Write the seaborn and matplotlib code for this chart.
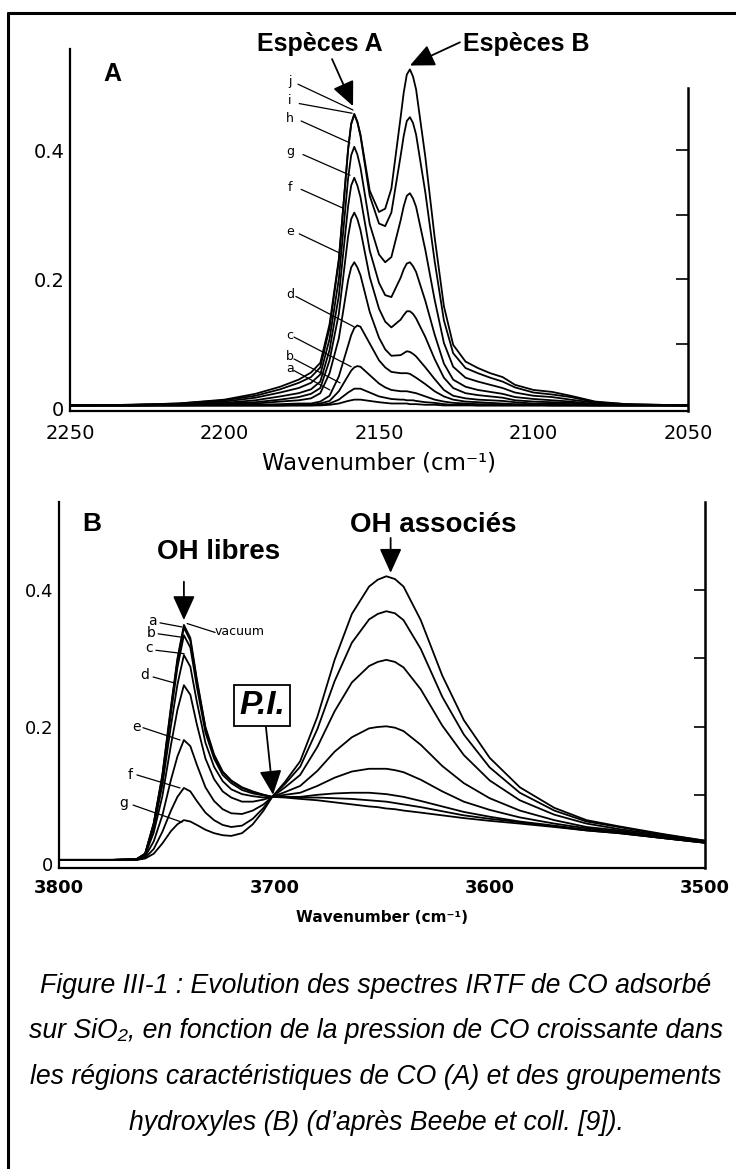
import matplotlib
matplotlib.use("Agg")
import matplotlib.pyplot as plt
import seaborn as sns
import pandas as pd
from matplotlib.lines import Line2D

W, H = 736, 1169

# ---- Panel A : CO region, spectra a..j (increasing CO pressure)
wn_co = [2250, 2230, 2215, 2200, 2190, 2182, 2176, 2172, 2169, 2166, 2163, 2160,
         2159, 2158, 2157, 2156, 2153, 2150, 2148, 2146, 2143, 2142, 2141, 2140,
         2139, 2138, 2135, 2132, 2129, 2126, 2122, 2118, 2114, 2110, 2106, 2100,
         2094, 2088, 2080, 2070, 2050]
co_a = [.004, .004, .004, .004, .004, .004, .004, .004, .004, .005, .007, .011,
        .012, .013, .013, .013, .011, .009, .008, .007, .007, .007, .007, .006,
        .006, .006, .005, .005, .004, .004, .004, .004, .004, .004, .004, .004,
        .004, .004, .004, .004, .004]
co_b = [.004, .004, .004, .004, .004, .004, .004, .004, .005, .007, .013, .024,
        .027, .030, .030, .030, .024, .018, .016, .014, .013, .013, .012, .012,
        .012, .011, .009, .008, .006, .005, .005, .004, .004, .004, .004, .004,
        .004, .004, .004, .004, .004]
co_c = [.004, .004, .004, .004, .004, .004, .005, .005, .007, .011, .026, .050,
        .058, .063, .065, .064, .051, .038, .032, .028, .026, .026, .026, .025,
        .024, .023, .018, .013, .010, .008, .007, .006, .006, .005, .005, .005,
        .004, .004, .004, .004, .004]
co_d = [.004, .004, .004, .005, .005, .006, .007, .007, .010, .019, .049, .097,
        .113, .124, .128, .126, .100, .074, .063, .056, .054, .054, .054, .053,
        .050, .047, .037, .026, .018, .013, .010, .009, .008, .007, .006, .006,
        .005, .005, .004, .004, .004]
co_e = [.004, .004, .005, .006, .007, .010, .012, .015, .023, .054, .108, .198,
        .218, .226, .218, .206, .149, .109, .091, .081, .082, .085, .088, .087,
        .084, .080, .063, .045, .028, .019, .015, .013, .012, .011, .009, .007,
        .007, .006, .005, .004, .004]
co_f = [.004, .004, .005, .007, .009, .013, .017, .022, .031, .074, .146, .266,
        .293, .303, .293, .276, .203, .154, .134, .125, .137, .144, .150, .150,
        .146, .139, .110, .076, .047, .031, .023, .020, .018, .016, .012, .010,
        .009, .008, .006, .005, .004]
co_g = [.004, .004, .005, .008, .012, .018, .023, .029, .041, .090, .174, .313,
        .345, .357, .345, .327, .244, .194, .175, .172, .202, .215, .224, .226,
        .220, .211, .166, .114, .069, .044, .033, .028, .025, .022, .017, .014,
        .012, .010, .006, .005, .004]
co_h = [.004, .005, .006, .010, .016, .024, .031, .039, .052, .107, .200, .356,
        .392, .405, .393, .373, .285, .238, .226, .234, .291, .313, .329, .333,
        .325, .312, .245, .168, .101, .064, .047, .041, .036, .031, .024, .019,
        .017, .013, .008, .005, .004]
co_i = [.004, .005, .007, .012, .019, .029, .039, .048, .063, .124, .228, .401,
        .440, .455, .443, .422, .329, .286, .282, .303, .391, .422, .445, .451,
        .442, .424, .334, .228, .136, .085, .062, .054, .047, .041, .032, .024,
        .021, .017, .009, .006, .004]
co_j = [.004, .005, .007, .013, .022, .033, .044, .055, .070, .130, .231, .401,
        .441, .456, .444, .424, .337, .304, .309, .340, .451, .489, .517, .525,
        .514, .494, .389, .265, .158, .098, .072, .062, .054, .048, .036, .028,
        .025, .019, .010, .006, .004]
co_names = ["a", "b", "c", "d", "e", "f", "g", "h", "i", "j"]

# ---- Panel B : OH region, vacuum then a..g
wn_oh = [3800, 3775, 3764, 3760, 3756, 3752, 3748, 3745, 3742, 3739, 3736, 3732,
         3728, 3724, 3720, 3715, 3710, 3705, 3701, 3695, 3688, 3680, 3672, 3664,
         3656, 3652, 3648, 3644, 3640, 3632, 3622, 3612, 3600, 3586, 3570, 3555,
         3540, 3520, 3500]
oh_vac = [.006, .006, .007, .015, .060, .130, .230, .300, .349, .330, .270, .200,
          .160, .135, .122, .112, .106, .101, .098, .097, .095, .093, .090, .087,
          .084, .083, .081, .080, .078, .075, .071, .067, .063, .059, .054, .049,
          .045, .038, .031]
oh_a = [.006, .006, .007, .015, .059, .129, .227, .297, .345, .326, .267, .198,
        .158, .134, .121, .111, .105, .101, .098, .098, .097, .097, .096, .095,
        .093, .092, .091, .089, .087, .083, .077, .071, .066, .061, .055, .049,
        .045, .038, .031]
oh_b = [.006, .006, .007, .015, .058, .125, .220, .287, .334, .316, .259, .192,
        .154, .130, .118, .108, .103, .100, .098, .098, .098, .101, .103, .104,
        .104, .103, .102, .100, .098, .092, .084, .076, .069, .062, .056, .050,
        .046, .038, .031]
oh_c = [.006, .006, .007, .014, .053, .115, .202, .262, .305, .288, .237, .177,
        .142, .121, .109, .102, .099, .097, .098, .101, .104, .114, .126, .135,
        .139, .139, .139, .137, .134, .123, .106, .091, .079, .068, .059, .052,
        .047, .039, .032]
oh_d = [.006, .006, .007, .013, .046, .099, .174, .225, .261, .247, .204, .154,
        .124, .106, .097, .091, .091, .094, .098, .105, .114, .136, .164, .185,
        .198, .200, .201, .199, .194, .174, .143, .118, .096, .078, .064, .054,
        .049, .040, .032]
oh_e = [.006, .006, .006, .011, .033, .071, .123, .157, .181, .172, .145, .112,
        .092, .080, .074, .073, .078, .087, .098, .112, .130, .171, .223, .265,
        .289, .295, .298, .295, .287, .255, .202, .159, .122, .093, .072, .059,
        .051, .042, .033]
oh_f = [.006, .006, .006, .009, .022, .047, .078, .098, .111, .106, .092, .075,
        .064, .057, .054, .056, .066, .082, .098, .117, .142, .197, .267, .323,
        .357, .365, .369, .366, .356, .314, .244, .189, .141, .104, .078, .062,
        .054, .043, .034]
oh_g = [.006, .006, .006, .008, .015, .030, .048, .058, .064, .062, .057, .050,
        .045, .042, .041, .045, .058, .078, .098, .120, .150, .215, .298, .365,
        .405, .415, .420, .416, .405, .356, .275, .210, .155, .112, .082, .064,
        .055, .044, .034]
oh_names = ["vacuum", "a", "b", "c", "d", "e", "f", "g"]

caption = ["Figure III-1 : Evolution des spectres IRTF de CO adsorbé",
           "sur SiO\u2082, en fonction de la pression de CO croissante dans",
           "les régions caractéristiques de CO (A) et des groupements",
           "hydroxyles (B) (d\u2019après Beebe et coll. [9])."]

# long-form tables for seaborn
co_series = [co_a, co_b, co_c, co_d, co_e, co_f, co_g, co_h, co_i, co_j]
oh_series = [oh_vac, oh_a, oh_b, oh_c, oh_d, oh_e, oh_f, oh_g]
df_co = pd.concat([pd.DataFrame({"wn": wn_co, "abs": s, "curve": n})
                   for n, s in zip(co_names, co_series)], ignore_index=True)
df_oh = pd.concat([pd.DataFrame({"wn": wn_oh, "abs": s, "curve": n})
                   for n, s in zip(oh_names, oh_series)], ignore_index=True)

sns.set_style("white")
plt.rcParams["font.family"] = ["DejaVu Sans"]
plt.rcParams["text.color"] = "black"
plt.rcParams["axes.labelcolor"] = "black"
plt.rcParams["xtick.color"] = "black"
plt.rcParams["ytick.color"] = "black"
plt.rcParams["axes.edgecolor"] = "black"
SANS = ["Liberation Sans", "DejaVu Sans"]

fig = plt.figure(figsize=(W / 100, H / 100), dpi=100)


def box(x0, y0, x1, y1):
    return [x0 / W, 1 - y1 / H, (x1 - x0) / W, (y1 - y0) / H]


arrow = dict(arrowstyle="-|>,head_length=0.75,head_width=0.34", color="black",
             lw=1.3, mutation_scale=20, shrinkA=0, shrinkB=0)
leader = dict(arrowstyle="-", color="black", lw=0.9, shrinkA=0, shrinkB=0)

# ================= panel A =================
axA = fig.add_axes(box(70, 49.4, 688, 410.6))
sns.lineplot(data=df_co, x="wn", y="abs", hue="curve",
             palette={n: "black" for n in co_names}, estimator=None,
             sort=False, legend=False, linewidth=1.3, ax=axA)
axA.set_xlim(2250, 2050)
axA.set_ylim(-0.004, 0.556)
axA.set_xticks([2250, 2200, 2150, 2100, 2050])
axA.set_yticks([0, 0.2, 0.4])
axA.set_yticklabels(["0", "0.2", "0.4"])
axA.set_yticks([0.1, 0.3, 0.5], minor=True)
axA.tick_params(axis="x", direction="in", length=5, width=1.2, labelsize=14, pad=10)
axA.tick_params(axis="y", which="both", direction="in", length=9, width=1.2,
                labelsize=14, pad=4)
for s in ["top", "right"]:
    axA.spines[s].set_visible(False)
for s in ["left", "bottom"]:
    axA.spines[s].set_linewidth(1.6)
secA = axA.secondary_yaxis("right")
secA.set_yticks([0.1, 0.2, 0.3, 0.4])
secA.tick_params(direction="in", length=9, width=1.2, labelright=False)
secA.spines["right"].set_bounds(-0.004, 0.496)
secA.spines["right"].set_linewidth(1.8)
axA.set_xlabel("Wavenumber (cm\u207b\u00b9)", fontsize=16.5)
axA.set_ylabel("")
axA.xaxis.set_label_coords(0.5, -0.145)
axA.xaxis.label.set_va("center")

axA.text(2236.4, 0.518, "A", fontsize=18, fontweight="bold", family=SANS,
         ha="center", va="center")
axA.text(2169.1, 0.564, "Espèces A", fontsize=18, fontweight="bold", family=SANS,
         ha="center", va="center", clip_on=False)
axA.text(2102.4, 0.564, "Espèces B", fontsize=18, fontweight="bold", family=SANS,
         ha="center", va="center", clip_on=False)
axA.annotate("", xy=(2158.4, 0.468), xytext=(2165.2, 0.541), arrowprops=arrow,
             annotation_clip=False)
axA.annotate("", xy=(2140.0, 0.531), xytext=(2123.8, 0.567), arrowprops=arrow,
             annotation_clip=False)

# curve letters and leader lines (label pos, line start, line end)
co_lab_y = [0.062, 0.080, 0.113, 0.176, 0.273, 0.342, 0.398, 0.449, 0.476, 0.507]
co_lead = [((2177.5, 0.058), (2165.9, 0.028)), ((2177.5, 0.076), (2162.6, 0.039)),
           ((2177.5, 0.110), (2159.0, 0.064)), ((2176.9, 0.173), (2158.1, 0.126)),
           ((2175.8, 0.270), (2162.6, 0.240)), ((2175.2, 0.339), (2161.7, 0.310)),
           ((2174.6, 0.393), (2159.4, 0.361)), ((2175.2, 0.445), (2159.4, 0.411)),
           ((2175.8, 0.472), (2158.7, 0.457)), ((2176.2, 0.502), (2158.4, 0.462))]
for n, ly, (p0, p1) in zip(co_names, co_lab_y, co_lead):
    axA.text(2178.8, ly, n, fontsize=9, ha="center", va="center")
    axA.annotate("", xy=p1, xytext=p0, arrowprops=leader)

# ================= panel B =================
axB = fig.add_axes(box(59, 502.3, 705, 868.1))
sns.lineplot(data=df_oh, x="wn", y="abs", hue="curve",
             palette={n: "black" for n in oh_names}, estimator=None,
             sort=False, legend=False, linewidth=1.3, ax=axB)
axB.set_xlim(3800, 3500)
axB.set_ylim(-0.006, 0.528)
axB.set_xticks([3800, 3700, 3600, 3500])
axB.set_xticks([3750, 3650, 3550], minor=True)
axB.set_yticks([0, 0.2, 0.4])
axB.set_yticklabels(["0", "0.2", "0.4"])
axB.tick_params(axis="x", which="both", direction="in", length=7, width=1.2,
                labelsize=13, pad=8)
for t in axB.get_xticklabels():
    t.set_fontweight("bold")
axB.tick_params(axis="y", direction="out", length=3, width=1.2, labelsize=13, pad=1)
axB.spines["top"].set_visible(False)
axB.spines["right"].set_visible(False)
for s in ["left", "bottom"]:
    axB.spines[s].set_linewidth(1.6)
secB = axB.secondary_yaxis("right")
secB.set_yticks([0.1, 0.2, 0.3, 0.4])
secB.tick_params(direction="in", length=8, width=1.2, labelright=False)
secB.spines["right"].set_linewidth(1.8)
axB.set_xlabel("Wavenumber (cm\u207b\u00b9)", fontsize=11, fontweight="bold")
axB.set_ylabel("")
axB.xaxis.set_label_coords(0.5, -0.134)
axB.xaxis.label.set_va("center")

axB.text(3784.7, 0.496, "B", fontsize=19, fontweight="bold", family=SANS,
         ha="center", va="center")
axB.text(3725.7, 0.455, "OH libres", fontsize=20, fontweight="bold", family=SANS,
         ha="center", va="center")
axB.text(3626.3, 0.495, "OH associés", fontsize=20, fontweight="bold", family=SANS,
         ha="center", va="center")
axB.annotate("", xy=(3742.0, 0.356), xytext=(3742.0, 0.412), arrowprops=arrow)
axB.annotate("", xy=(3646.0, 0.425), xytext=(3646.0, 0.476), arrowprops=arrow)
axB.text(3705.7, 0.232, "P.I.", fontsize=24, fontweight="bold", style="italic",
         family=SANS, ha="center", va="center",
         bbox=dict(boxstyle="square,pad=0.15", fc="white", ec="black", lw=1.3))
axB.annotate("", xy=(3700.6, 0.101), xytext=(3703.9, 0.200), arrowprops=arrow)

axB.text(3716.0, 0.340, "vacuum", fontsize=9, ha="center", va="center")
axB.annotate("", xy=(3740.5, 0.351), xytext=(3727.5, 0.338), arrowprops=leader)
oh_lab = [(3756.8, 0.355), (3757.3, 0.337), (3758.2, 0.315), (3760.0, 0.276),
          (3763.8, 0.200), (3767.0, 0.130), (3769.8, 0.089)]
oh_lead = [((3753.1, 0.352), (3742.9, 0.346)), ((3754.0, 0.336), (3742.9, 0.331)),
           ((3755.0, 0.312), (3741.9, 0.307)), ((3756.3, 0.273), (3746.1, 0.264)),
           ((3761.0, 0.199), (3743.8, 0.181)), ((3763.8, 0.130), (3743.8, 0.111)),
           ((3765.6, 0.086), (3742.9, 0.061))]
for n, (lx, ly), (p0, p1) in zip(oh_names[1:], oh_lab, oh_lead):
    axB.text(lx, ly, n, fontsize=10, ha="center", va="center")
    axB.annotate("", xy=p1, xytext=p0, arrowprops=leader)

# ================= caption and frame =================
for k, line in enumerate(caption):
    fig.text(376 / W, 1 - (986 + 45.5 * k) / H, line, ha="center", va="center",
             fontsize=19.2, style="italic", family=SANS)

fig.add_artist(Line2D([8 / W, 8 / W], [1 - 13 / H, 0], color="black", lw=2.2))
fig.add_artist(Line2D([8 / W, 1], [1 - 13 / H, 1 - 13 / H], color="black", lw=2.2))

fig.savefig("out.png", dpi=100)
